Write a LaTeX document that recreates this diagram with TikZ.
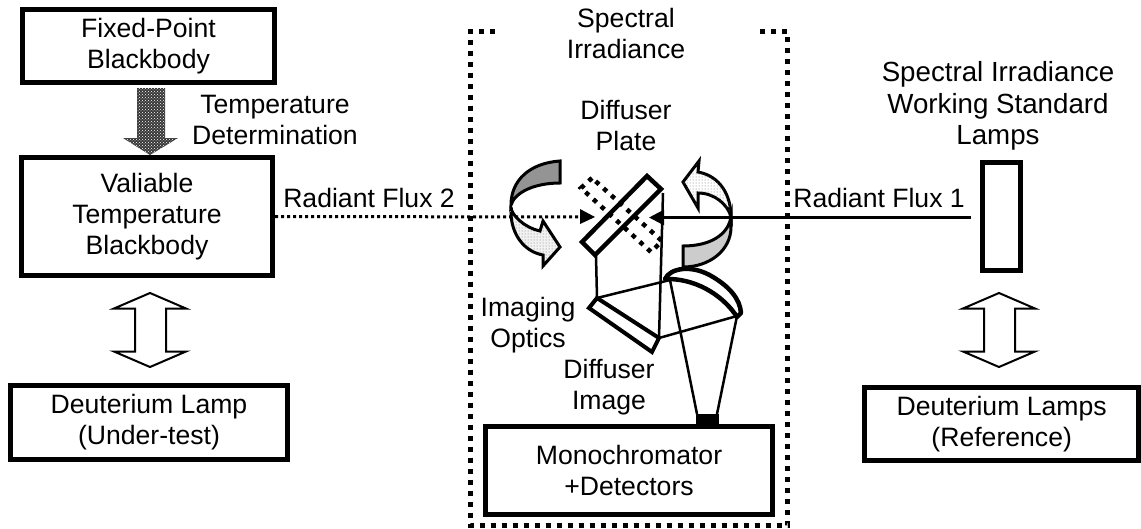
\documentclass[tikz,border=0pt]{standalone}
\usepackage{fontspec}
\setmainfont{Liberation Sans}
\usetikzlibrary{patterns,arrows.meta}
\tikzset{
 x=1pt,y=-1pt,
 lbl/.style={inner sep=0pt,align=center,font=\fontsize{26.6}{31}\selectfont},
 biglbl/.style={inner sep=0pt,align=center,font=\fontsize{27.7}{31.5}\selectfont},
 thickbox/.style={draw=black,line width=5pt,fill=white,align=center,inner sep=0pt,font=\fontsize{26.6}{31}\selectfont},
 dbl/.style={draw=black,line width=2pt,fill=white,line join=miter},
 curl/.style={draw=black,line width=3pt,line join=miter},
 optic/.style={draw=black,line width=2.5pt},
 tipa/.style={-{Triangle[length=15pt,width=15pt]}},
}
\begin{document}
\begin{tikzpicture}
\useasboundingbox (0,0) rectangle (1141,528);
% frame
\draw[line width=5pt,dash pattern=on 5pt off 6pt] (495,31) -- (470.5,31) -- (470.5,525.5) -- (787.5,525.5) -- (787.5,31) -- (757,31);
% boxes
\node[thickbox,minimum width=252pt,minimum height=73pt] (fixed) at (148.5,46) {Fixed-Point\\Blackbody};
\node[thickbox,minimum width=251pt,minimum height=118pt] (vtb) at (147,216.5) {Valiable\\Temperature\\Blackbody};
\node[thickbox,minimum width=277pt,minimum height=74pt] (dl) at (149,422.5) {Deuterium Lamp\\(Under-test)};
\node[thickbox,minimum width=287pt,minimum height=88pt] (mono) at (629,470.5) {Monochromator\\+Detectors};
\node[thickbox,minimum width=274.5pt,minimum height=73pt] (dref) at (1001.7,424) {Deuterium Lamps\\(Reference)};
\node[thickbox,minimum width=38pt,minimum height=108pt] (lamp) at (1001.5,216.5) {};
% temperature arrow
\fill[black!78] (137,88) -- (165,88) -- (165,138) -- (178,138) -- (150,155) -- (123,138) -- (137,138) -- cycle;
\fill[pattern=crosshatch dots,pattern color=white] (137,88) -- (165,88) -- (165,138) -- (178,138) -- (150,155) -- (123,138) -- (137,138) -- cycle;
% double arrows
\draw[dbl] (150,293) -- (186,308.5) -- (166,308.5) -- (166,351.5) -- (186,351.5) -- (150,367) -- (114,351.5) -- (135,351.5) -- (135,308.5) -- (114,308.5) -- cycle;
\draw[dbl] (999,293) -- (1035,308.5) -- (1015,308.5) -- (1015,351.5) -- (1035,351.5) -- (999,367) -- (963,351.5) -- (984,351.5) -- (984,308.5) -- (963,308.5) -- cycle;
% dotted plate
\draw[line width=4.5pt,dash pattern=on 4.5pt off 6pt] (592,178) -- (581,188) -- (651,252) -- (662,241) -- cycle;
% flux lines
\coordinate (plR) at (649,217.5);
\draw[line width=3pt,dash pattern=on 3pt off 3pt] (vtb.east) -- (585,217);
\fill (580,209) -- (595,217) -- (580,224) -- cycle;
\draw[line width=2.5pt,tipa,shorten <=9pt] ([yshift=-1pt]lamp.west) -- (plR);
% plate
\draw[draw=black,line width=4.5pt,line join=miter] (647,176) -- (661,189) -- (595,255) -- (582,242) -- cycle;
% left curl
\fill[black!5] (511,207) .. controls (511,215) and (525,228) .. (540,231) -- (543,221) -- (560,247) -- (543,266) -- (543,255) .. controls (525,252) and (511,235) .. (511,212) -- cycle;
\fill[pattern=dots,pattern color=black!55] (511,207) .. controls (511,215) and (525,228) .. (540,231) -- (543,221) -- (560,247) -- (543,266) -- (543,255) .. controls (525,252) and (511,235) .. (511,212) -- cycle;
\draw[curl] (511,207) .. controls (511,215) and (525,228) .. (540,231) -- (543,221) -- (560,247) -- (543,266) -- (543,255) .. controls (525,252) and (511,235) .. (511,212);
\draw[curl,fill=black!42] (560,161) .. controls (530,163) and (511,180) .. (511,205) .. controls (515,192) and (535,183) .. (560,183) -- cycle;
% right curl
\draw[curl,fill=white] (683,182) -- (699,161) -- (698,172) .. controls (720,176) and (731,195) .. (731,217) .. controls (728,205) and (715,193) .. (698,193) -- (698,208) -- cycle;
\fill[pattern=dots,pattern color=black!55] (683,182) -- (699,161) -- (698,172) .. controls (720,176) and (731,195) .. (731,217) .. controls (728,205) and (715,193) .. (698,193) -- (698,208) -- cycle;
\draw[curl,fill=black!20] (731,217) .. controls (728,235) and (710,246) .. (683,246) -- (683,267) .. controls (710,267) and (731,250) .. (731,227) -- cycle;
% optics
\coordinate (m1a) at (597,298); \coordinate (m1b) at (589,308); \coordinate (m1c) at (652,352); \coordinate (m1d) at (659,338);
\coordinate (m2a) at (670,280); \coordinate (m2b) at (737,316);
\draw[optic] (596,256) -- (m1a);
\draw[optic] (663,193) -- (m1d);
\draw[optic] (m1a) -- (m2a);
\draw[optic] (m1d) -- (m2b);
\draw[optic] (m2a) -- (697,414);
\draw[optic] (m2b) -- (717,414);
\draw[line width=4pt,line join=miter] (m1a) -- (m1b) -- (m1c) -- (m1d) -- cycle;
\draw[line width=4.5pt,fill=white,line join=round] (665,279) .. controls (670,268) and (692,264) .. (713,277) .. controls (728,286) and (740,298) .. (741,313) -- (737,317) .. controls (725,298) and (700,280) .. (670,279) -- cycle;
\fill[black] (696,414) rectangle (719,425);
% labels
\node[lbl] (t1) at (626,33.5) {Spectral\\Irradiance};
\node[lbl] (t2) at (626,125) {Diffuser\\Plate};
\node[lbl] (t3) at (275,120) {Temperature\\Determination};
\node[lbl,anchor=east] (t4) at (455,198) {Radiant Flux 2};
\node[lbl,anchor=east] (t5) at (965,198) {Radiant Flux 1};
\node[biglbl] (t6) at (998,106) {Spectral Irradiance\\Working Standard\\Lamps};
\node[lbl] (t7) at (528,325) {Imaging\\Optics};
\node[lbl] (t8) at (609,387) {Diffuser\\Image};
\end{tikzpicture}
\end{document}
